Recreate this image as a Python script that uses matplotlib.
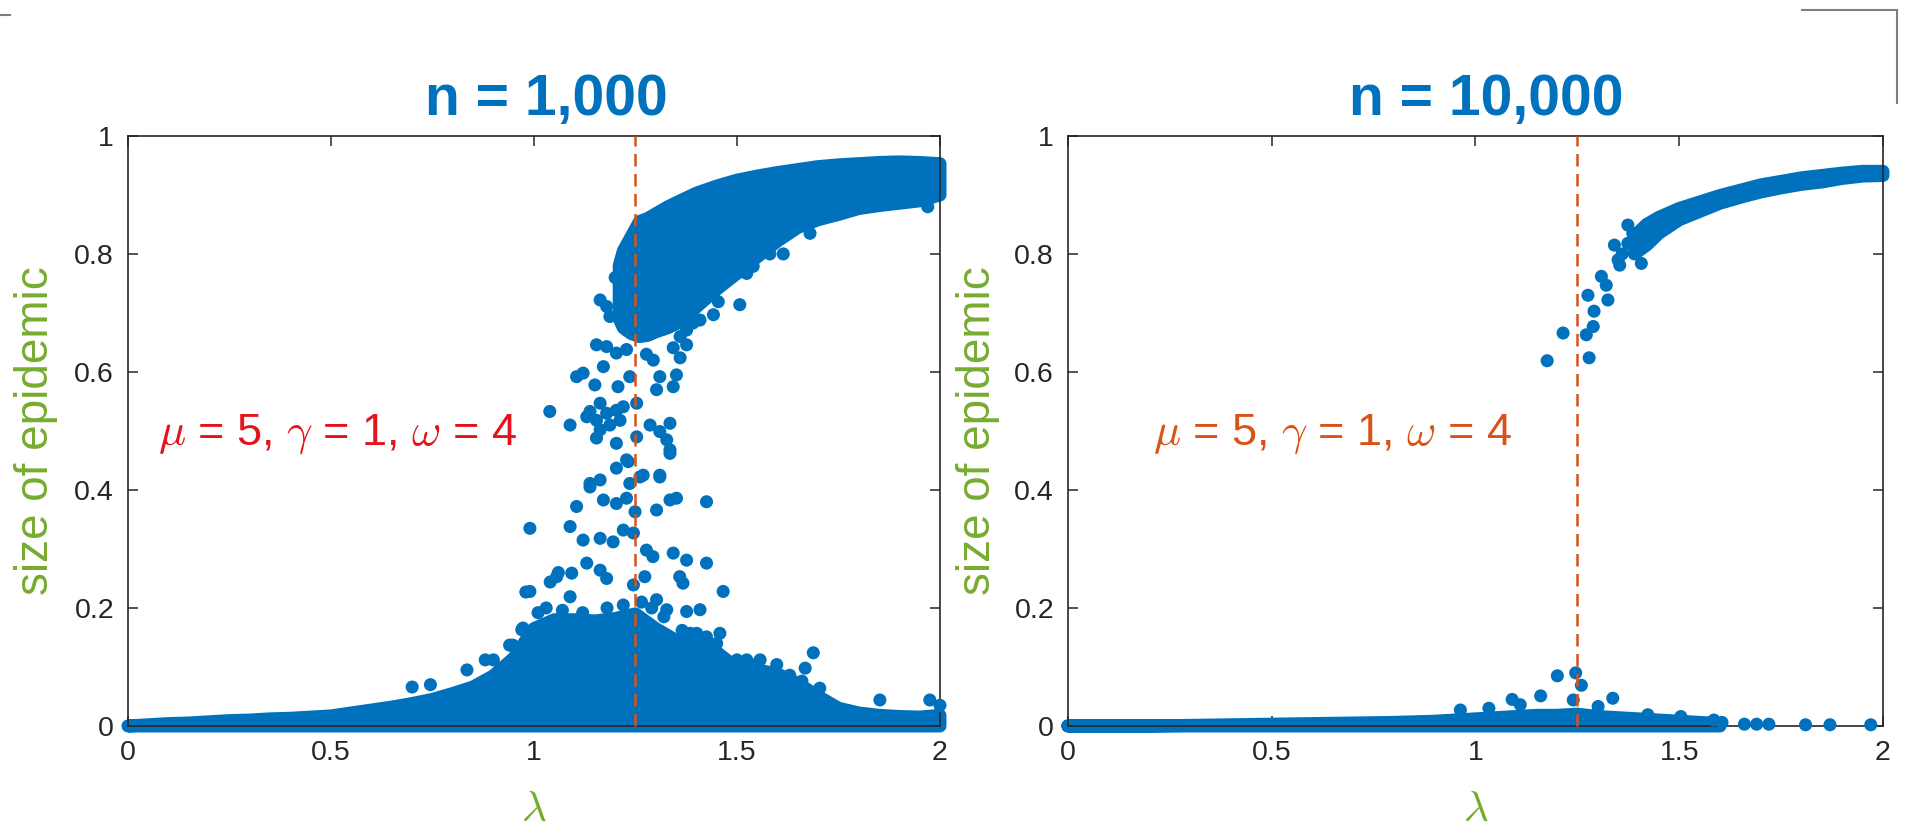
import matplotlib
matplotlib.use('Agg')
import matplotlib.pyplot as plt
from matplotlib.lines import Line2D

plt.rcParams['font.family'] = ['Liberation Sans', 'DejaVu Sans']
plt.rcParams['mathtext.fontset'] = 'cm'

BLUE = '#0072BD'
ORANGE = '#D95319'
GREEN = '#77AC30'
RED = '#E3141C'
DARK = '#262626'

titles = ['n = 1,000', 'n = 10,000']
annot = r'$\mu$ = 5, $\gamma$ = 1, $\omega$ = 4'
lambda_c = 1.25
xticks = [0, 0.5, 1, 1.5, 2]
xticklabels = ['0', '0.5', '1', '1.5', '2']
yticks = [0, 0.2, 0.4, 0.6, 0.8, 1]
yticklabels = ['0', '0.2', '0.4', '0.6', '0.8', '1']

# ---------------- n = 1,000 : dense swaths (envelopes of the dot cloud) ----
L_low_lam = [0.00, 0.05, 0.10, 0.15, 0.20, 0.25, 0.30, 0.35, 0.40, 0.45, 0.50,
             0.55, 0.60, 0.65, 0.70, 0.75, 0.80, 0.85, 0.90, 0.95, 1.00, 1.05,
             1.10, 1.15, 1.20, 1.25, 1.30, 1.35, 1.40, 1.45, 1.50, 1.55, 1.60,
             1.65, 1.70, 1.75, 1.80, 1.85, 1.90, 1.95, 2.00]
L_low_hi = [0.000, 0.002, 0.004, 0.005, 0.007, 0.009, 0.010, 0.012, 0.013, 0.015,
            0.017, 0.022, 0.027, 0.032, 0.038, 0.045, 0.055, 0.066, 0.085, 0.115,
            0.165, 0.180, 0.180, 0.178, 0.182, 0.190, 0.165, 0.145, 0.138, 0.125,
            0.098, 0.095, 0.088, 0.072, 0.050, 0.030, 0.022, 0.018, 0.016, 0.015,
            0.018]
L_low_lo = [0.0] * len(L_low_lam)

L_up_lam = [1.21, 1.22, 1.24, 1.26, 1.28, 1.30, 1.33, 1.36, 1.40, 1.45, 1.50, 1.55,
            1.60, 1.65, 1.70, 1.75, 1.80, 1.85, 1.90, 1.95, 2.00]
L_up_hi = [0.780, 0.805, 0.830, 0.855, 0.860, 0.868, 0.880, 0.890, 0.903, 0.915,
           0.925, 0.932, 0.938, 0.943, 0.948, 0.951, 0.953, 0.955, 0.956, 0.955,
           0.953]
L_up_lo = [0.690, 0.675, 0.665, 0.660, 0.662, 0.668, 0.675, 0.685, 0.710, 0.740,
           0.767, 0.795, 0.822, 0.845, 0.858, 0.867, 0.877, 0.882, 0.886, 0.890,
           0.900]

# ---------------- n = 1,000 : individual runs outside the swaths ----------
L_pts_lam = [0.990, 1.105, 1.138, 1.163, 1.203, 1.232, 1.335, 1.310, 1.236, 1.269,
             1.171, 1.203, 1.228, 1.249, 1.302, 1.335, 1.351, 1.425, 1.089, 1.121,
             1.163, 1.195, 1.220, 1.245, 1.277, 1.293, 1.343, 1.376, 1.425, 1.359,
             1.367, 1.130, 1.163, 1.179, 1.056, 1.093, 0.990, 1.089, 1.245, 1.273,
             1.466, 1.302, 1.327, 1.376, 1.409, 1.458, 1.401, 1.425, 1.475, 1.524,
             1.557, 1.598, 0.948, 0.973, 1.668, 1.688, 1.704, 1.852, 1.975, 2.000,
             1.154, 1.179, 1.203, 1.228, 1.163, 1.179, 1.187, 1.220, 1.228, 1.171,
             1.105, 1.121, 1.150, 1.207, 1.236, 1.310, 1.351, 1.302, 1.343, 1.039,
             1.089, 1.138, 1.163, 1.179, 1.203, 1.220, 1.253, 1.130, 1.154, 1.187,
             1.212, 1.163, 1.203, 1.154, 1.253, 1.286, 1.310, 1.327, 1.335, 1.335,
             1.228, 1.261, 1.310, 1.138, 1.507, 1.454, 1.442, 1.409, 1.392, 1.360,
             1.376, 1.581, 1.614, 1.524, 1.540, 1.680, 1.970, 1.277, 1.294, 1.343,
             1.360, 1.376, 0.835, 0.880, 0.900, 0.940, 0.970, 0.980, 1.040, 1.060,
             0.700, 0.745,
             1.010, 1.030, 1.070, 1.120, 1.180, 1.220, 1.265, 1.290, 1.320, 1.365,
             1.385, 1.420, 1.450, 1.500, 1.530, 1.630, 1.660, 1.200, 1.215, 1.240]
L_pts_y = [0.335, 0.372, 0.411, 0.417, 0.437, 0.448, 0.462, 0.425, 0.411, 0.425,
           0.383, 0.377, 0.386, 0.363, 0.366, 0.383, 0.386, 0.380, 0.338, 0.315,
           0.318, 0.312, 0.332, 0.327, 0.298, 0.287, 0.293, 0.281, 0.276, 0.253,
           0.242, 0.276, 0.264, 0.250, 0.253, 0.259, 0.228, 0.219, 0.239, 0.253,
           0.228, 0.214, 0.197, 0.194, 0.197, 0.157, 0.157, 0.151, 0.109, 0.112,
           0.112, 0.104, 0.137, 0.166, 0.098, 0.124, 0.064, 0.044, 0.044, 0.035,
           0.646, 0.643, 0.632, 0.638, 0.722, 0.711, 0.694, 0.688, 0.671, 0.609,
           0.592, 0.598, 0.578, 0.575, 0.592, 0.592, 0.595, 0.570, 0.575, 0.533,
           0.510, 0.533, 0.547, 0.530, 0.535, 0.541, 0.547, 0.524, 0.518, 0.510,
           0.518, 0.502, 0.479, 0.488, 0.490, 0.510, 0.499, 0.485, 0.468, 0.513,
           0.451, 0.422, 0.422, 0.405, 0.714, 0.719, 0.697, 0.688, 0.683, 0.660,
           0.671, 0.800, 0.800, 0.767, 0.779, 0.835, 0.880, 0.630, 0.620, 0.641,
           0.624, 0.646, 0.095, 0.112, 0.112, 0.137, 0.163, 0.227, 0.244, 0.260,
           0.066, 0.070,
           0.192, 0.200, 0.196, 0.192, 0.200, 0.205, 0.210, 0.200, 0.185, 0.162,
           0.157, 0.147, 0.140, 0.112, 0.106, 0.086, 0.076, 0.760, 0.790, 0.820]

# ---------------- n = 10,000 : dense swaths ----------------------------------
R_low_lam = [0.00, 0.10, 0.20, 0.30, 0.40, 0.50, 0.60, 0.70, 0.80, 0.90, 0.95,
             1.00, 1.05, 1.10, 1.15, 1.20, 1.25, 1.30, 1.35, 1.40, 1.45, 1.50,
             1.55, 1.60]
R_low_hi = [0.000, 0.000, 0.000, 0.001, 0.002, 0.003, 0.004, 0.005, 0.006, 0.008,
            0.010, 0.012, 0.014, 0.016, 0.018, 0.018, 0.020, 0.016, 0.014, 0.012,
            0.010, 0.008, 0.006, 0.004]
R_low_lo = [0.0] * len(R_low_lam)

R_up_lam = [1.39, 1.42, 1.45, 1.50, 1.55, 1.60, 1.65, 1.70, 1.75, 1.80, 1.85,
            1.90, 1.95, 2.00]
R_up_hi = [0.830, 0.850, 0.862, 0.877, 0.888, 0.899, 0.908, 0.917, 0.923, 0.929,
           0.933, 0.937, 0.940, 0.940]
R_up_lo = [0.800, 0.815, 0.835, 0.858, 0.872, 0.886, 0.896, 0.905, 0.912, 0.918,
           0.922, 0.928, 0.932, 0.933]

R_pts_lam = [1.176, 1.215, 1.279, 1.272, 1.289, 1.291, 1.276, 1.309, 1.321, 1.325,
             1.341, 1.354, 1.374, 1.374, 1.398, 1.407, 1.386, 1.360, 1.350,
             1.201, 1.246, 1.260, 1.160, 1.090, 1.110, 1.337, 1.301, 1.240, 0.963,
             1.033, 1.423, 1.504, 1.585, 1.605, 1.660, 1.690, 1.720, 1.810, 1.870,
             1.970]
R_pts_y = [0.619, 0.666, 0.624, 0.663, 0.677, 0.703, 0.730, 0.762, 0.747, 0.722,
           0.815, 0.781, 0.849, 0.818, 0.824, 0.784, 0.835, 0.800, 0.790,
           0.085, 0.090, 0.069, 0.051, 0.045, 0.036, 0.047, 0.033, 0.044, 0.027,
           0.030, 0.019, 0.016, 0.010, 0.006, 0.003, 0.003, 0.003, 0.002, 0.002,
           0.002]

DOT_PT = 9.4  # marker diameter in points


def swath(ax, lam, lo, hi):
    xs = list(lam) + list(lam)[::-1]
    ys = list(hi) + list(lo)[::-1]
    ax.fill(xs, ys, facecolor=BLUE, edgecolor=BLUE, linewidth=DOT_PT,
            joinstyle='round', capstyle='round', clip_on=False, zorder=2)


fig = plt.figure(figsize=(19.07, 8.33), dpi=100)
ax1 = fig.add_axes([0.0671, 0.1285, 0.4258, 0.7083])
ax2 = fig.add_axes([0.5600, 0.1285, 0.4274, 0.7083])

panels = [
    (ax1, [(L_low_lam, L_low_lo, L_low_hi), (L_up_lam, L_up_lo, L_up_hi)],
     L_pts_lam, L_pts_y, RED, 0.074, -0.086),
    (ax2, [(R_low_lam, R_low_lo, R_low_hi), (R_up_lam, R_up_lo, R_up_hi)],
     R_pts_lam, R_pts_y, ORANGE, 0.209, -0.083),
]

for ax, bands, plam, py, acol, ax_x, ylab_x in panels:
    for lam, lo, hi in bands:
        swath(ax, lam, lo, hi)
    ax.scatter(plam, py, s=DOT_PT ** 2, color=BLUE, edgecolors='none',
               clip_on=False, zorder=3)
    ax.plot([lambda_c, lambda_c], [0, 1], color=ORANGE, lw=1.8,
            linestyle=(0, (5, 3)), zorder=5, clip_on=False)
    ax.set_xlim(0, 2)
    ax.set_ylim(0, 1)
    ax.set_xticks(xticks)
    ax.set_xticklabels(xticklabels)
    ax.set_yticks(yticks)
    ax.set_yticklabels(yticklabels)
    ax.tick_params(direction='in', top=True, right=True, length=7, width=1.1,
                   colors=DARK, labelsize=20.5, pad=10)
    for sp in ax.spines.values():
        sp.set_linewidth(1.2)
        sp.set_color(DARK)
    ax.set_ylabel('size of epidemic', color=GREEN, fontsize=33)
    ax.yaxis.set_label_coords(ylab_x, 0.5)
    ax.set_xlabel(r'$\lambda$', color=GREEN, fontsize=31)
    ax.xaxis.set_label_coords(0.5, -0.108)
    ax.text(ax_x, 0.495, annot, color=acol, fontsize=32.5, va='center',
            ha='left', zorder=6)

fig.text(0.2863, 0.862, titles[0], color=BLUE, fontsize=41, fontweight='bold',
         ha='center', va='baseline')
fig.text(0.7792, 0.862, titles[1], color=BLUE, fontsize=41, fontweight='bold',
         ha='center', va='baseline')

# crop-mark decorations at the figure corners
fig.add_artist(Line2D([1802 / 1907, 1897 / 1907], [1 - 10 / 833, 1 - 10 / 833],
                      color='#7f7f7f', lw=1.5, transform=fig.transFigure))
fig.add_artist(Line2D([1897 / 1907, 1897 / 1907], [1 - 10 / 833, 1 - 103 / 833],
                      color='#7f7f7f', lw=1.5, transform=fig.transFigure))
fig.add_artist(Line2D([0, 10 / 1907], [1 - 15 / 833, 1 - 15 / 833],
                      color='#7f7f7f', lw=1.5, transform=fig.transFigure))

fig.savefig('out.png', dpi=100, facecolor='white')
